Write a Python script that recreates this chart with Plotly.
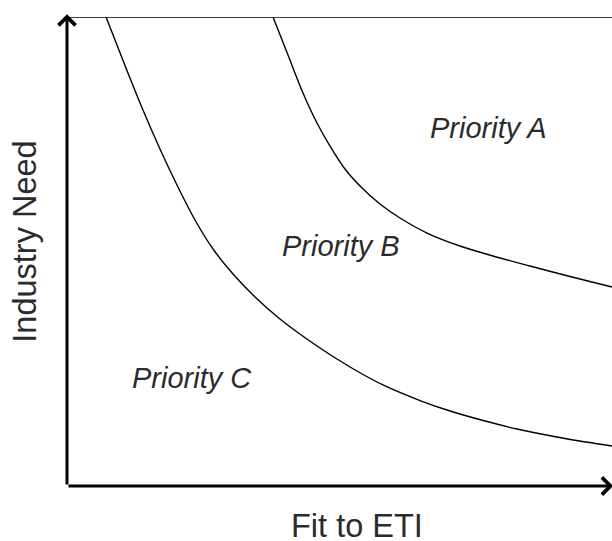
import plotly.graph_objects as go

# Boundary between Priority C and Priority B
curve_cb_x = [7.16, 10.46, 13.94, 17.06, 20.18, 23.49, 26.79, 30.46, 34.50, 39.08,
              45.87, 51.93, 57.98, 64.77, 70.28, 76.70, 82.57, 91.38, 100.0]
curve_cb_y = [100.0, 90.19, 80.17, 71.86, 64.18, 56.72, 50.53, 45.20, 40.30, 35.61,
              29.85, 25.37, 21.54, 18.22, 15.99, 13.86, 12.15, 10.13, 8.53]

# Boundary between Priority B and Priority A
curve_ba_x = [37.80, 40.55, 43.30, 45.87, 48.26, 51.01, 54.13, 57.43, 61.10, 66.06,
              72.11, 78.17, 84.95, 92.29, 100.0]
curve_ba_y = [100.0, 91.90, 83.80, 77.40, 72.49, 67.59, 63.54, 60.13, 57.14, 53.94,
              51.17, 49.04, 46.91, 44.67, 42.43]

region_labels = ["Priority A", "Priority B", "Priority C"]
region_x = [77.4, 50.3, 22.9]
region_y = [76.3, 51.2, 23.0]

x_title = "Fit to ETI"
y_title = "Industry Need"

FONT = "Liberation Sans, Arial, sans-serif"
TXT = "#2b2b2b"

fig = go.Figure()
for xs, ys in [(curve_cb_x, curve_cb_y), (curve_ba_x, curve_ba_y)]:
    fig.add_trace(go.Scatter(x=xs, y=ys, mode="lines",
                             line=dict(color="black", width=1.4, shape="spline", smoothing=0.9),
                             hoverinfo="skip", showlegend=False))

for t, x, y in zip(region_labels, region_x, region_y):
    fig.add_annotation(x=x, y=y, xref="x", yref="y", text=f"<i>{t}</i>", showarrow=False,
                       font=dict(family=FONT, size=29, color=TXT),
                       xanchor="center", yanchor="middle")

# top boundary line
fig.add_shape(type="line", xref="x", yref="y", x0=0, x1=100, y0=100, y1=100,
              line=dict(color="black", width=1.5))

# axis arrows
fig.add_annotation(x=0, y=100.6, ax=0, ay=0, xref="x", yref="y", axref="x", ayref="y",
                   text="", showarrow=True, arrowhead=4, arrowsize=1.1, arrowwidth=3,
                   arrowcolor="black")
fig.add_annotation(x=100.2, y=0, ax=0, ay=0, xref="x", yref="y", axref="x", ayref="y",
                   text="", showarrow=True, arrowhead=4, arrowsize=1.1, arrowwidth=3,
                   arrowcolor="black")

fig.add_annotation(x=0.532, y=-0.085, xref="paper", yref="paper", text=x_title,
                   showarrow=False, font=dict(family=FONT, size=32.5, color=TXT),
                   xanchor="center", yanchor="middle")
fig.add_annotation(x=-0.077, y=0.521, xref="paper", yref="paper", text=y_title,
                   textangle=-90, showarrow=False, font=dict(family=FONT, size=32.5, color=TXT),
                   xanchor="center", yanchor="middle")

fig.update_xaxes(range=[0, 100], visible=False, fixedrange=True)
fig.update_yaxes(range=[0, 100], visible=False, fixedrange=True)
fig.update_layout(width=612, height=541, margin=dict(l=67, r=0, t=17, b=55),
                  plot_bgcolor="white", paper_bgcolor="white", showlegend=False)

fig.write_html("out.html", config={"displayModeBar": False},
               post_script="document.body.style.margin='0';document.body.style.overflow='hidden';")
